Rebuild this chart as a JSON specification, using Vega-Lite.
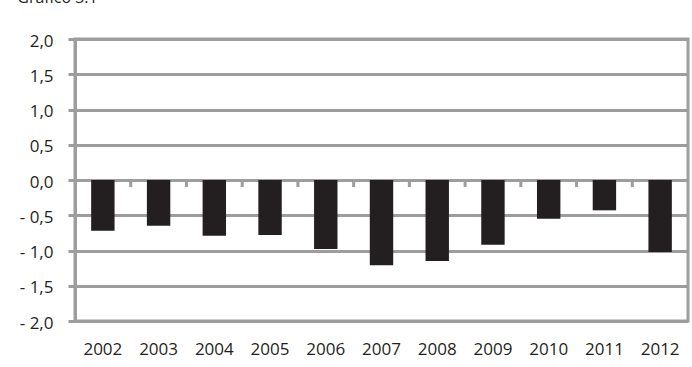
{
  "$schema": "https://vega.github.io/schema/vega-lite/v6.json",
  "width": 613,
  "height": 282,
  "autosize": {"type": "none"},
  "padding": {"left": 75, "top": 39, "right": 4, "bottom": 46},
  "background": "white",
  "title": {
    "text": "Gráfico 3.1",
    "anchor": "start",
    "frame": "bounds",
    "baseline": "bottom",
    "offset": 10,
    "dx": -2,
    "font": "Open Sans",
    "fontSize": 16,
    "fontWeight": "normal",
    "color": "#231f20"
  },
  "config": {
    "font": "Open Sans",
    "view": {"stroke": "#9d9d9d", "strokeWidth": 3},
    "axisY": {
      "title": null,
      "grid": true,
      "gridColor": "#9d9d9d",
      "gridWidth": 3,
      "domainColor": "#9d9d9d",
      "domainWidth": 3,
      "tickColor": "#9d9d9d",
      "tickWidth": 3,
      "tickSize": 7,
      "labelPadding": 15,
      "labelOffset": 2,
      "labelFontSize": 17,
      "labelFont": "Open Sans",
      "labelColor": "#231f20",
      "labelOverlap": false
    },
    "axisX": {
      "title": null,
      "labelAngle": 0,
      "ticks": false,
      "domain": false,
      "grid": false,
      "labelPadding": 20,
      "labelFontSize": 17,
      "labelColor": "#231f20",
      "labelFont": "Open Sans"
    }
  },
  "data": {
    "values": [
      {"year": "2002", "value": -0.72},
      {"year": "2003", "value": -0.65},
      {"year": "2004", "value": -0.79},
      {"year": "2005", "value": -0.78},
      {"year": "2006", "value": -0.98},
      {"year": "2007", "value": -1.21},
      {"year": "2008", "value": -1.15},
      {"year": "2009", "value": -0.92},
      {"year": "2010", "value": -0.55},
      {"year": "2011", "value": -0.43},
      {"year": "2012", "value": -1.02}
    ]
  },
  "layer": [
    {
      "mark": {"type": "bar", "color": "#231f20"},
      "encoding": {
        "x": {
          "field": "year",
          "type": "ordinal",
          "scale": {"paddingInner": 0.58, "paddingOuter": 0.29}
        },
        "y": {
          "field": "value",
          "type": "quantitative",
          "scale": {"domain": [-2, 2], "nice": false},
          "axis": {
            "values": [-2, -1.5, -1, -0.5, 0, 0.5, 1, 1.5, 2],
            "labelExpr": "datum.value < 0 ? '- ' + replace(format(-datum.value, '.1f'), '.', ',') : replace(format(datum.value, '.1f'), '.', ',')"
          }
        }
      }
    },
    {
      "transform": [{"filter": "datum.year != '2002'"}],
      "mark": {"type": "rule", "color": "#9d9d9d", "strokeWidth": 3},
      "encoding": {
        "x": {"field": "year", "type": "ordinal", "bandPosition": -0.69},
        "y": {
          "datum": 0,
          "type": "quantitative",
          "axis": {
            "values": [-2, -1.5, -1, -0.5, 0, 0.5, 1, 1.5, 2],
            "labelExpr": "datum.value < 0 ? '- ' + replace(format(-datum.value, '.1f'), '.', ',') : replace(format(datum.value, '.1f'), '.', ',')"
          }
        },
        "y2": {"datum": -0.1}
      }
    }
  ]
}
